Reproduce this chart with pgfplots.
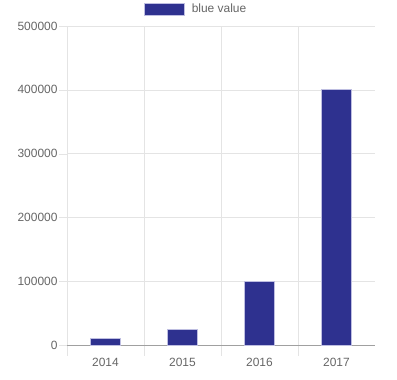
\documentclass[border=0pt]{standalone}
\usepackage{pgfplots}
\pgfplotsset{compat=1.18}
\usepackage{fontspec}
\setmainfont{Liberation Sans}
\definecolor{barblue}{RGB}{46,49,143}
\definecolor{barborder}{RGB}{190,190,225}
\definecolor{txt}{RGB}{102,102,102}
\definecolor{gridc}{RGB}{228,228,228}
\definecolor{axc}{RGB}{160,160,160}
\begin{document}
\begin{tikzpicture}
\path[use as bounding box] (0,0) rectangle (397bp,380bp);
\begin{axis}[
  at={(67bp,35bp)}, anchor=south west,
  scale only axis, width=308bp, height=319bp,
  xmin=-0.5, xmax=3.5, ymin=0, ymax=500000,
  axis x line*=bottom, axis y line*=left,
  x axis line style={draw=axc, -},
  y axis line style={draw=gridc, -},
  xtick={0,1,2,3}, xticklabels={2014,2015,2016,2017},
  minor xtick={-0.5,0.5,1.5,2.5},
  minor x grid style={gridc},
  xminorgrids=true,
  ytick={0,100000,200000,300000,400000,500000},
  ymajorgrids=true,
  major grid style={gridc},
  scaled y ticks=false,
  yticklabel={\pgfmathprintnumber[fixed,int detect,1000 sep={}]{\tick}},
  /pgf/number format/assume math mode=true,
  tick align=outside,
  major tick length=8bp,
  minor tick length=11bp,
  x tick style={draw=none},
  y tick style={draw=gridc},
  xtick style={draw=none},
  minor x tick style={draw=gridc},
  tick label style={font=\fontsize{12}{14}\selectfont, text=txt},
  xticklabel style={yshift=-2bp},
  yticklabel style={xshift=2bp},
  legend style={at={(0.419,1.052)}, anchor=center, draw=none, fill=none,
    font=\fontsize{12}{14}\selectfont, text=txt, legend cell align=left,
    /tikz/every odd column/.append style={column sep=5bp}},
  legend image code/.code={\draw[fill=barblue, draw=barborder, line width=1bp] (0bp,-6bp) rectangle (40bp,6bp);},
  clip=false,
]
\addplot[ybar, bar width=30bp, fill=barblue, draw=barborder, line width=0.8bp]
  coordinates {(0,10000) (1,25000) (2,100000) (3,400000)};
\addlegendentry{blue value}
\end{axis}
\end{tikzpicture}
\end{document}
